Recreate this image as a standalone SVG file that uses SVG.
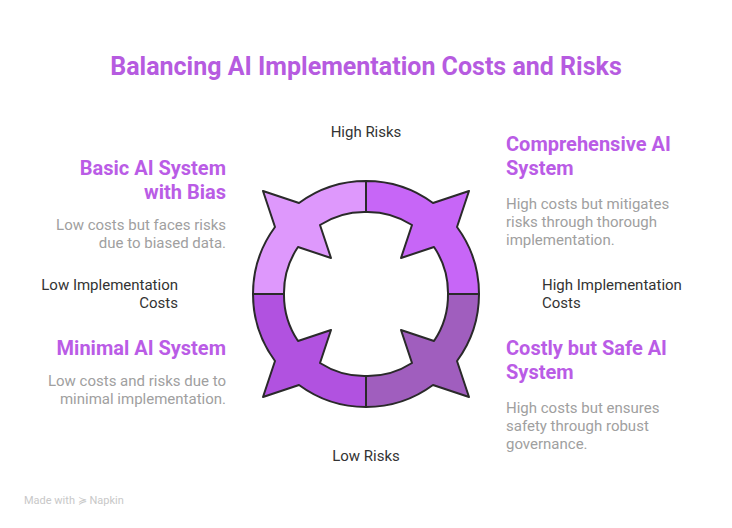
<svg xmlns="http://www.w3.org/2000/svg" width="732" height="528" viewBox="0 0 732 528">
<style>
text{font-family:Roboto,"Liberation Sans",sans-serif}
.t{font-size:25px;font-weight:bold;fill:#B65BE0}
.h{font-size:20px;font-weight:bold;fill:#BA5CE6}
.b{font-size:15px;fill:#A0A0A0}
.l{font-size:15px;fill:#333}
.q{stroke:#2a2a2a;stroke-width:2;stroke-linejoin:round}
</style>
<defs>
<path id="qp" d="M253,294 A113,113 0 0 1 275,227 L263,191 L299,203 A113,113 0 0 1 366,181 L366,212 A82,82 0 0 0 320,225 L331,258 L298,247 A82,82 0 0 0 284,294 Z"/>
</defs>
<rect width="732" height="528" fill="#fff"/>
<text class="t" x="366" y="75" text-anchor="middle">Balancing AI Implementation Costs and Risks</text>
<g id="ring">
<use href="#qp" class="q" fill="#DE98FC"/>
<use href="#qp" class="q" fill="#C766F7" transform="translate(732,0) scale(-1,1)"/>
<use href="#qp" class="q" fill="#B152E0" transform="translate(0,588) scale(1,-1)"/>
<use href="#qp" class="q" fill="#A05EBE" transform="translate(732,588) scale(-1,-1)"/>
</g>
<g id="axes">
<text class="l" x="366" y="137" text-anchor="middle">High Risks</text>
<text class="l" x="366" y="461" text-anchor="middle">Low Risks</text>
<text class="l" x="178" y="290" text-anchor="end">Low Implementation</text>
<text class="l" x="178" y="308" text-anchor="end">Costs</text>
<text class="l" x="542" y="290">High Implementation</text>
<text class="l" x="542" y="308">Costs</text>
</g>
<g id="basic">
<text class="h" x="226" y="175" text-anchor="end">Basic AI System</text>
<text class="h" x="226" y="199" text-anchor="end">with Bias</text>
<text class="b" x="226" y="230" text-anchor="end">Low costs but faces risks</text>
<text class="b" x="226" y="248" text-anchor="end">due to biased data.</text>
</g>
<g id="comprehensive">
<text class="h" x="506" y="151">Comprehensive AI</text>
<text class="h" x="506" y="175">System</text>
<text class="b" x="506" y="209">High costs but mitigates</text>
<text class="b" x="506" y="227">risks through thorough</text>
<text class="b" x="506" y="245">implementation.</text>
</g>
<g id="minimal">
<text class="h" x="226" y="355" text-anchor="end">Minimal AI System</text>
<text class="b" x="226" y="386" text-anchor="end">Low costs and risks due to</text>
<text class="b" x="226" y="404" text-anchor="end">minimal implementation.</text>
</g>
<g id="costly">
<text class="h" x="506" y="355">Costly but Safe AI</text>
<text class="h" x="506" y="379">System</text>
<text class="b" x="506" y="413">High costs but ensures</text>
<text class="b" x="506" y="431">safety through robust</text>
<text class="b" x="506" y="449">governance.</text>
</g>
<text x="24" y="504" font-size="11" fill="#c8c8c8">Made with ≽ Napkin</text>
</svg>
